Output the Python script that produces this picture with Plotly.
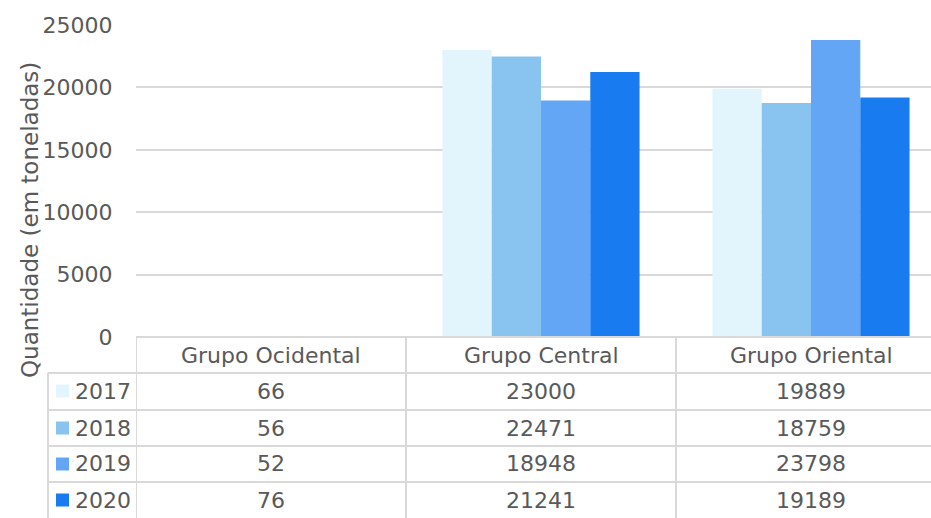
import plotly.graph_objects as go

categories = ["Grupo Ocidental", "Grupo Central", "Grupo Oriental"]
years = ["2017", "2018", "2019", "2020"]
v2017 = [66, 23000, 19889]
v2018 = [56, 22471, 18759]
v2019 = [52, 18948, 23798]
v2020 = [76, 21241, 19189]
series = [v2017, v2018, v2019, v2020]
colors = ["#E3F5FC", "#88C4EF", "#63A6F5", "#187CF0"]
y_ticks = [0, 5000, 10000, 15000, 20000, 25000]

W, H = 931, 518
L, T, B = 136, 25, 337  # plot area px
FONT = "DejaVu Sans"
FS = 22
TXT = "#595959"
GRID = "#D9D9D9"

def py(p):
    return (B - p) / (B - T)

def px(p):
    return (p - L) / (W - L)

fig = go.Figure()
for yr, vals, c in zip(years, series, colors):
    fig.add_trace(go.Bar(x=categories, y=vals, name=yr, marker=dict(color=c, line=dict(width=0))))

shapes = []
annos = []
row_lines = [373, 410, 446, 482]
shapes.append(dict(type="line", xref="paper", yref="paper", x0=0, x1=1.02, y0=py(337), y1=py(337),
                   line=dict(color=GRID, width=2)))
for r in row_lines:
    shapes.append(dict(type="line", xref="paper", yref="paper", x0=px(48), x1=1.02, y0=py(r), y1=py(r),
                       line=dict(color=GRID, width=2)))
shapes.append(dict(type="line", xref="paper", yref="paper", x0=px(48), x1=px(48), y0=py(373), y1=py(530),
                   line=dict(color=GRID, width=2)))
for i in range(len(categories)):
    shapes.append(dict(type="line", xref="x", yref="paper", x0=i - 0.5, x1=i - 0.5, y0=py(337), y1=py(530),
                       line=dict(color=GRID, width=2)))

row_centers = [391, 428, 464, 500]
for i, cat in enumerate(categories):
    annos.append(dict(x=i, y=py(355), xref="x", yref="paper", text=cat, showarrow=False,
                      font=dict(family=FONT, size=FS, color=TXT), xanchor="center", yanchor="middle"))
for yr, vals, c, rc in zip(years, series, colors, row_centers):
    shapes.append(dict(type="rect", xref="paper", yref="paper", x0=px(56), x1=px(69),
                       y0=py(rc + 6.5), y1=py(rc - 6.5), fillcolor=c, line=dict(width=0)))
    annos.append(dict(x=px(73), y=py(rc), xref="paper", yref="paper", text=yr, showarrow=False,
                      font=dict(family=FONT, size=FS, color=TXT), xanchor="left", yanchor="middle"))
    for i, v in enumerate(vals):
        annos.append(dict(x=i, y=py(rc), xref="x", yref="paper", text=str(v), showarrow=False,
                          font=dict(family=FONT, size=FS, color=TXT), xanchor="center", yanchor="middle"))

annos.append(dict(x=px(30), y=py(220), xref="paper", yref="paper", text="Quantidade (em toneladas)",
                  textangle=-90, showarrow=False, font=dict(family=FONT, size=23, color=TXT),
                  xanchor="center", yanchor="middle"))

cat_px = 270
fig.update_layout(
    width=W, height=H,
    margin=dict(l=L, r=0, t=T, b=H - B, pad=0),
    paper_bgcolor="white", plot_bgcolor="white",
    barmode="group", bargap=0.27, bargroupgap=0,
    showlegend=False,
    font=dict(family=FONT, size=FS, color=TXT),
    xaxis=dict(range=[-0.5, -0.5 + (W - L) / cat_px], showticklabels=False, showgrid=False,
               zeroline=False, showline=False, ticks=""),
    yaxis=dict(range=[0, 25000], tickvals=y_ticks, ticktext=[str(v) for v in y_ticks],
               showgrid=True, gridcolor=GRID, gridwidth=2,
               zeroline=False, showline=False, ticks="outside", ticklen=18, tickcolor="rgba(0,0,0,0)",
               tickfont=dict(family=FONT, size=FS, color=TXT)),
    shapes=shapes, annotations=annos,
)
fig.write_html("out.html", config={"displayModeBar": False})
with open("out.html", "r", encoding="utf-8") as f:
    html = f.read()
html = html.replace("<body>", '<body style="margin:0;padding:0;overflow:hidden">', 1)
with open("out.html", "w", encoding="utf-8") as f:
    f.write(html)
